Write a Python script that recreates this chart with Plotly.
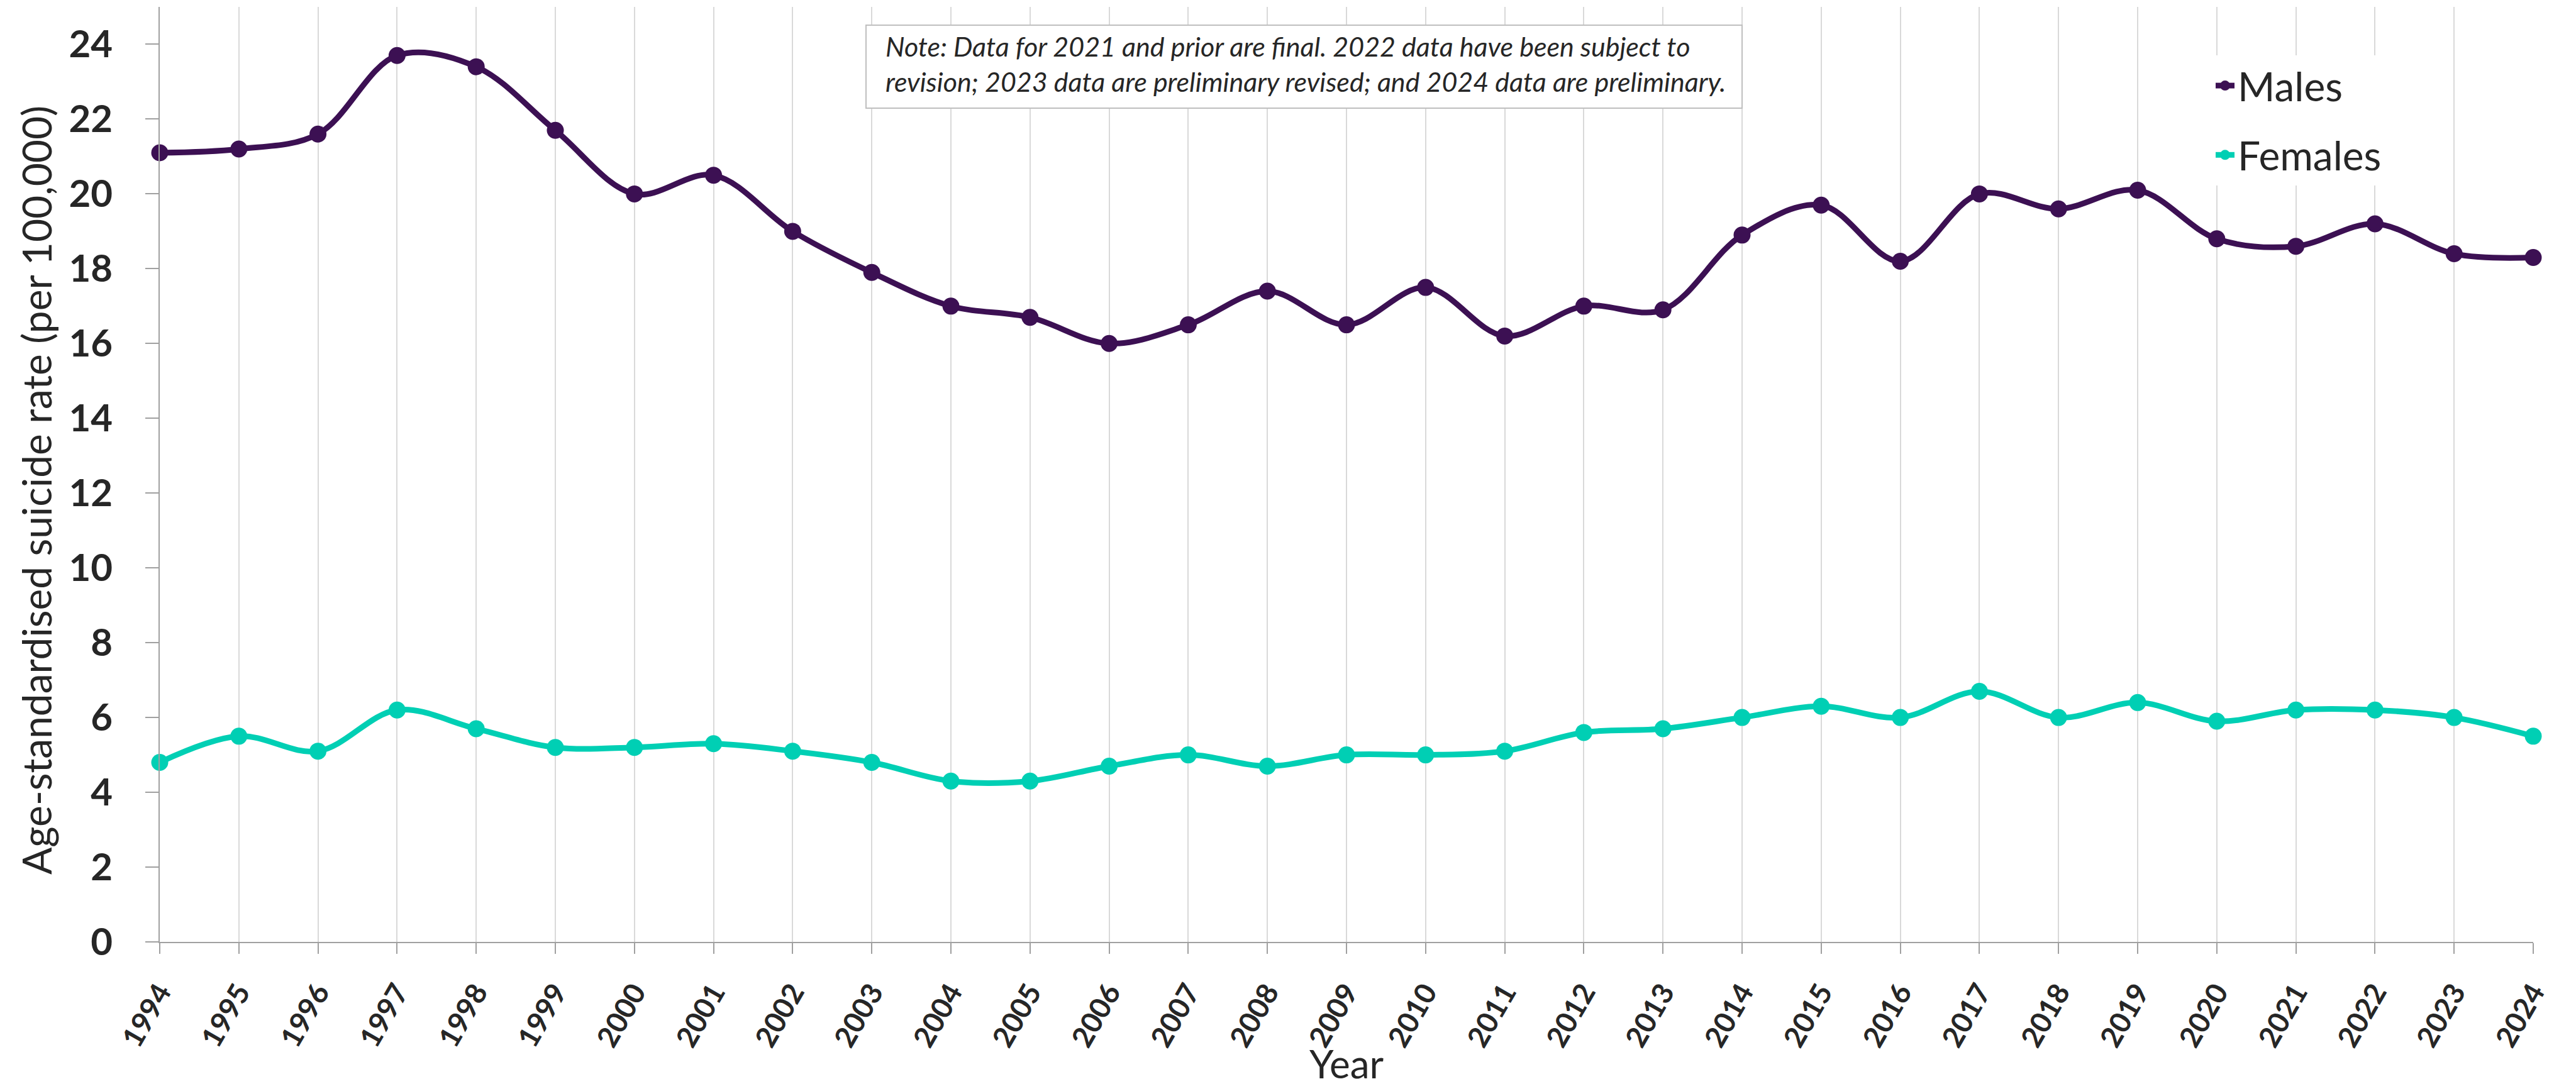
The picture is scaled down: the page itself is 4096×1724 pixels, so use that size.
import plotly.graph_objects as go

years = list(range(1994, 2025))
males = [21.1, 21.2, 21.6, 23.7, 23.4, 21.7, 20.0, 20.5, 19.0, 17.9, 17.0, 16.7, 16.0, 16.5,
         17.4, 16.5, 17.5, 16.2, 17.0, 16.9, 18.9, 19.7, 18.2, 20.0, 19.6, 20.1, 18.8, 18.6,
         19.2, 18.4, 18.3]
females = [4.8, 5.5, 5.1, 6.2, 5.7, 5.2, 5.2, 5.3, 5.1, 4.8, 4.3, 4.3, 4.7, 5.0, 4.7, 5.0,
           5.0, 5.1, 5.6, 5.7, 6.0, 6.3, 6.0, 6.7, 6.0, 6.4, 5.9, 6.2, 6.2, 6.0, 5.5]
year_labels = [str(y) for y in years]
y_ticks = list(range(0, 25, 2))

MALE_COLOR = "#3C1053"
FEMALE_COLOR = "#00CFB4"
TEXT = "#262626"
FONT = "Lato, 'Open Sans', sans-serif"

W, H = 4096, 1724
L, R, T, B = 246, 76, 3, 234
PW, PH = W - L - R, H - T - B


def px(x):
    return (x - L) / PW


def py(y):
    return (H - B - y) / PH


fig = go.Figure()
fig.add_trace(go.Scatter(
    x=years, y=males, name="Males", mode="lines+markers",
    line=dict(color=MALE_COLOR, width=9, shape="spline", smoothing=1),
    marker=dict(color=MALE_COLOR, size=27), cliponaxis=False, legendgroup="m"))
fig.add_trace(go.Scatter(
    x=years, y=females, name="Females", mode="lines+markers",
    line=dict(color=FEMALE_COLOR, width=9, shape="spline", smoothing=1),
    marker=dict(color=FEMALE_COLOR, size=27), cliponaxis=False, legendgroup="f"))

fig.update_layout(
    width=W, height=H,
    margin=dict(l=L, r=R, t=T, b=B),
    paper_bgcolor="white", plot_bgcolor="white",
    font=dict(family=FONT, color=TEXT),
    showlegend=True,
    legend=dict(
        x=px(3510), y=py(80), xanchor="left", yanchor="top",
        bgcolor="white", font=dict(size=64, color=TEXT, family=FONT),
        tracegroupgap=24, itemwidth=30, borderwidth=0,
    ),
    xaxis=dict(
        range=[1994, 2024], tickmode="array", tickvals=years, ticktext=year_labels,
        tickangle=-60, tickfont=dict(size=46, family=FONT, weight="bold", color=TEXT),
        showgrid=True, gridcolor="#D9D9D9", gridwidth=1.5,
        showline=True, linecolor="#A0A0A0", linewidth=2,
        ticks="outside", ticklen=17, tickwidth=2, tickcolor="#A0A0A0",
        ticklabelstandoff=16, zeroline=False,
    ),
    yaxis=dict(
        range=[0, 25], tickmode="array", tickvals=y_ticks,
        tickfont=dict(size=60, family=FONT, weight="bold", color=TEXT),
        showgrid=False, showline=True, linecolor="#A0A0A0", linewidth=2,
        ticks="outside", ticklen=21, tickwidth=2, tickcolor="#A0A0A0",
        ticklabelstandoff=40, zeroline=False,
    ),
)

# Note box
fig.add_shape(type="rect", xref="paper", yref="paper",
              x0=px(1369), x1=px(2762), y0=py(164), y1=py(32),
              line=dict(color="#BFBFBF", width=2), fillcolor="white", layer="above")
fig.add_annotation(
    xref="paper", yref="paper", x=px(1398), y=py(38), xanchor="left", yanchor="top",
    align="left", showarrow=False,
    text="<i>Note: Data for 2021 and prior are final. 2022 data have been subject to<br>"
         "revision; 2023 data are preliminary revised; and 2024 data are preliminary.</i>",
    font=dict(size=43, family=FONT, color=TEXT),
)

# Axis titles
fig.add_annotation(
    xref="paper", yref="paper", x=px(50), y=py(772), xanchor="center", yanchor="middle",
    textangle=-90, showarrow=False,
    text="Age-standardised suicide rate (per 100,000)",
    font=dict(size=64, family=FONT, color=TEXT),
)
fig.add_annotation(
    xref="paper", yref="paper", x=0.5, y=py(1722), xanchor="center", yanchor="bottom",
    showarrow=False, text="Year",
    font=dict(size=62, family=FONT, color=TEXT),
)

fig.write_html("out.html")
